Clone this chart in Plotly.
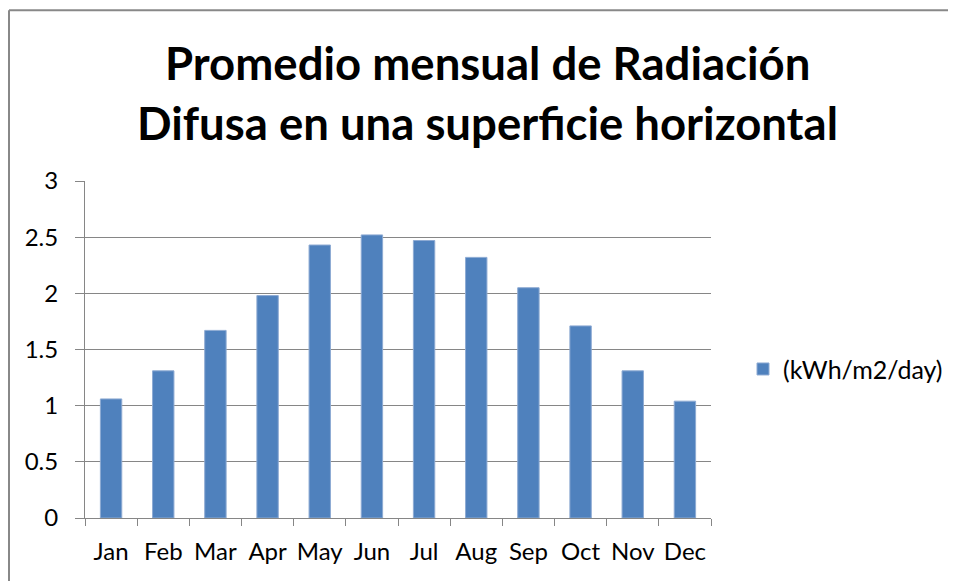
import plotly.graph_objects as go

months = ["Jan", "Feb", "Mar", "Apr", "May", "Jun", "Jul", "Aug", "Sep", "Oct", "Nov", "Dec"]
radiation = [1.06, 1.31, 1.67, 1.98, 2.43, 2.52, 2.47, 2.32, 2.05, 1.71, 1.31, 1.04]
series_name = "(kWh/m2/day)"
title_lines = ["Promedio mensual de Radiación", "Difusa en una superficie horizontal"]
y_ticks = [0, 0.5, 1, 1.5, 2, 2.5, 3]

OFF = 8  # page body margin
W, H = 956 - OFF, 581 - OFF
# plot area in page pixel coordinates
PX0, PX1, PY0, PY1 = 85, 711, 180.5, 518
L, R, T, B = PX0 - OFF, W - (PX1 - OFF), PY0 - OFF, H - (PY1 - OFF)
pw, ph = W - L - R, H - T - B

def px_x(x):
    return (x - OFF - L) / pw

def px_y(y):
    return (H - B - (y - OFF)) / ph

FONT = "Lato"
GRID = "#868686"

fig = go.Figure()
fig.add_trace(go.Bar(
    x=months, y=radiation, name=series_name,
    marker=dict(color="#4F81BD", line=dict(color="#8DAAD3", width=1)),
    showlegend=True,
))

fig.update_layout(
    width=W, height=H,
    margin=dict(l=L, r=R, t=T, b=B, autoexpand=False),
    paper_bgcolor="white", plot_bgcolor="white",
    bargap=0.59,
    font=dict(family=FONT, size=24, color="black"),
    showlegend=True,
    legend=dict(x=px_x(743), y=px_y(369), xanchor="left", yanchor="middle",
                font=dict(family=FONT, size=25, color="black"),
                bgcolor="rgba(0,0,0,0)"),
    xaxis=dict(
        type="category", showline=True, linecolor=GRID, linewidth=1,
        ticks="outside", ticklen=7, tickcolor=GRID, tickson="boundaries",
        showgrid=False, tickangle=0, automargin=False,
        tickfont=dict(family=FONT, size=24, color="black"),
        ticklabelstandoff=12,
    ),
    yaxis=dict(
        range=[0, 3], tickvals=y_ticks, ticktext=[f"{v:g}" for v in y_ticks],
        showline=True, linecolor=GRID, linewidth=1,
        ticks="outside", ticklen=9, tickcolor=GRID, automargin=False,
        showgrid=True, gridcolor=GRID, gridwidth=1, zeroline=False,
        tickfont=dict(family=FONT, size=24, color="black"),
        ticklabelstandoff=12,
    ),
    shapes=[
        dict(type="line", xref="paper", yref="paper", x0=px_x(9), x1=px_x(980),
             y0=px_y(9.5), y1=px_y(9.5), line=dict(color="#888888", width=2)),
        dict(type="line", xref="paper", yref="paper", x0=px_x(9), x1=px_x(9),
             y0=px_y(9.5), y1=px_y(600), line=dict(color="#888888", width=2)),
    ],
    annotations=[
        dict(text=f"<b>{title_lines[0]}</b>", xref="paper", yref="paper",
             x=px_x(487.5), y=px_y(62), xanchor="center", yanchor="middle",
             showarrow=False, font=dict(family=FONT, size=45.5, color="black")),
        dict(text=f"<b>{title_lines[1]}</b>", xref="paper", yref="paper",
             x=px_x(487.5), y=px_y(122), xanchor="center", yanchor="middle",
             showarrow=False, font=dict(family=FONT, size=45.5, color="black")),
    ],
)

fig.write_html("out.html")
